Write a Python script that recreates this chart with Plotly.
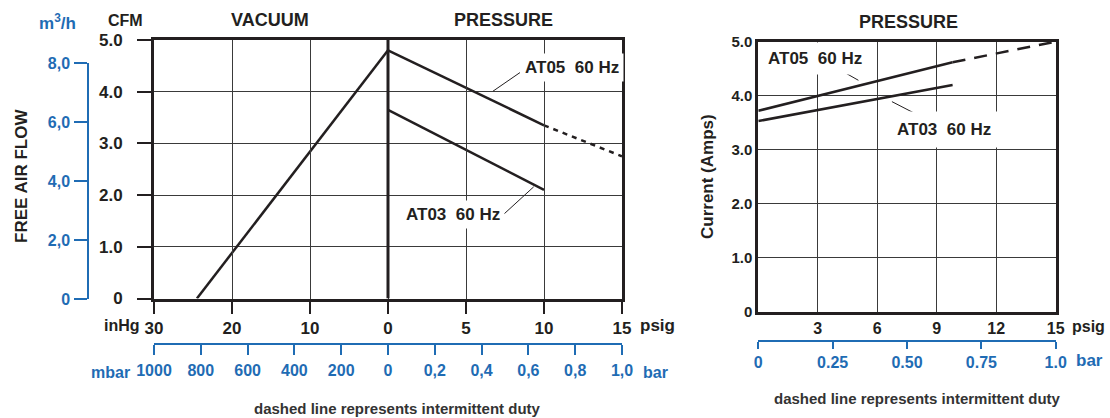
import plotly.graph_objects as go

W, H = 1110, 418
INK = "#231f20"
BLUE = "#1f6cb4"
GRID = "#3a3a3a"
F = "Liberation Sans, Arial, Helvetica, sans-serif"
FN = "Liberation Sans Narrow, Arial Narrow, Liberation Sans, Arial, sans-serif"

# ---------------- data: flow chart (left) ----------------
vac_inhg = [24.5, 0.0]          # vacuum side (inHg)
vac_cfm = [0.0, 4.8]
at05_psig = [0, 10]             # AT05 continuous duty
at05_cfm = [4.8, 3.35]
at05_int_psig = [10, 15]        # AT05 intermittent duty
at05_int_cfm = [3.35, 2.75]
at03_psig = [0, 10]             # AT03
at03_cfm = [3.65, 2.1]

inhg_ticks = [30, 20, 10, 0]
psig_ticks_left = [5, 10, 15]
cfm_ticks = [0, 1, 2, 3, 4, 5]
cfm_labels = ["0", "1.0", "2.0", "3.0", "4.0", "5.0"]
m3h_ticks = [0, 2, 4, 6, 8]
m3h_labels = ["0", "2,0", "4,0", "6,0", "8,0"]
mbar_ticks = [1000, 800, 600, 400, 200, 0]
mbar_labels = ["1000", "800", "600", "400", "200", "0"]
bar_ticks_left = [0.2, 0.4, 0.6, 0.8, 1.0]
bar_labels_left = ["0,2", "0,4", "0,6", "0,8", "1,0"]

# ---------------- data: current chart (right) ----------------
amp_at05_psig = [0, 9.8]
amp_at05 = [3.72, 4.62]
amp_at05_int_psig = [9.8, 15]
amp_at05_int = [4.62, 5.0]
amp_at03_psig = [0, 9.8]
amp_at03 = [3.53, 4.2]

psig_ticks_right = [3, 6, 9, 12, 15]
amp_ticks = [0, 1, 2, 3, 4, 5]
amp_labels = ["0", "1.0", "2.0", "3.0", "4.0", "5.0"]
bar_ticks_right = [0, 0.25, 0.5, 0.75, 1.0]
bar_labels_right = ["0", "0.25", "0.50", "0.75", "1.0"]


# left chart x-scale: vacuum half (30..0 inHg) and pressure half (0..15 psig)
def vac_pos(v):
    return [-x / 2.0 for x in v]


def mbar_pos(v):
    return [-x / 1000.0 * 15 for x in v]


def bar_pos(v):
    return [x * 15 for x in v]


def px(x):
    return x / W


def py(y):
    return 1 - y / H


fig = go.Figure()
line = dict(color=INK, width=2.5)
fig.add_trace(go.Scatter(x=vac_pos(vac_inhg), y=vac_cfm, mode="lines", line=line, xaxis="x", yaxis="y"))
fig.add_trace(go.Scatter(x=at05_psig, y=at05_cfm, mode="lines", line=line, xaxis="x", yaxis="y"))
fig.add_trace(go.Scatter(x=at05_int_psig, y=at05_int_cfm, mode="lines",
                         line=dict(color=INK, width=2.5, dash="5px,5px"), xaxis="x", yaxis="y"))
fig.add_trace(go.Scatter(x=at03_psig, y=at03_cfm, mode="lines", line=line, xaxis="x", yaxis="y"))
# helper traces so secondary axes render
fig.add_trace(go.Scatter(x=[None], y=[None], xaxis="x", yaxis="y2", hoverinfo="skip"))
fig.add_trace(go.Scatter(x=[None], y=[None], xaxis="x3", yaxis="y", hoverinfo="skip"))

fig.add_trace(go.Scatter(x=amp_at05_psig, y=amp_at05, mode="lines", line=line, xaxis="x2", yaxis="y3"))
fig.add_trace(go.Scatter(x=amp_at05_int_psig, y=amp_at05_int, mode="lines",
                         line=dict(color=INK, width=2.5, dash="13px,9px"), xaxis="x2", yaxis="y3"))
fig.add_trace(go.Scatter(x=amp_at03_psig, y=amp_at03, mode="lines", line=line, xaxis="x2", yaxis="y3"))
fig.add_trace(go.Scatter(x=[None], y=[None], xaxis="x4", yaxis="y3", hoverinfo="skip"))

bold17 = dict(family=F, size=17, color=INK, weight=700)
blue16 = dict(family=F, size=16, color=BLUE, weight=700)

frame = dict(showline=True, linecolor=INK, linewidth=3, mirror=True, zeroline=False,
             showgrid=True, gridcolor=GRID, gridwidth=1, automargin=False)

fig.update_layout(
    width=W, height=H, margin=dict(l=0, r=0, t=0, b=0, autoexpand=False),
    paper_bgcolor="white", plot_bgcolor="rgba(0,0,0,0)", showlegend=False,
    xaxis=dict(domain=[px(154), px(622)], range=[-15, 15], anchor="y",
               tickvals=vac_pos(inhg_ticks) + psig_ticks_left,
               ticktext=[str(v) for v in inhg_ticks] + [str(v) for v in psig_ticks_left],
               ticks="outside", ticklen=12, tickwidth=1.5, tickcolor=INK,
               tickfont=bold17, **frame),
    yaxis=dict(domain=[py(298.5), py(40)], range=[0, 5], anchor="x",
               tickvals=cfm_ticks, ticktext=cfm_labels,
               ticks="outside", ticklen=14, tickwidth=1.5, tickcolor=INK,
               ticklabelstandoff=11, tickfont=bold17, **frame),
    yaxis2=dict(domain=[py(299), py(63.3)], range=[0, 8], anchor="free", position=px(88),
                side="left", tickvals=m3h_ticks, ticktext=m3h_labels,
                ticks="outside", ticklen=13, tickwidth=1.5, tickcolor=BLUE,
                showline=True, linecolor=BLUE, linewidth=1.5, showgrid=False, zeroline=False,
                ticklabelstandoff=1, tickfont=blue16, automargin=False),
    xaxis3=dict(overlaying="x", anchor="free", position=py(344), side="bottom",
                range=[-15, 15],
                tickvals=mbar_pos(mbar_ticks) + bar_pos(bar_ticks_left),
                ticktext=mbar_labels + bar_labels_left,
                ticks="outside", ticklen=10, tickwidth=1.5, tickcolor=BLUE,
                showline=True, linecolor=BLUE, linewidth=1.5, showgrid=False, zeroline=False,
                ticklabelstandoff=2, tickfont=blue16, automargin=False),
    xaxis2=dict(domain=[px(758.3), px(1055.7)], range=[0, 15], anchor="y3",
                tickvals=psig_ticks_right, ticktext=[str(v) for v in psig_ticks_right],
                ticks="", tickfont=dict(family=FN, size=16, color=INK, weight=700), **frame),
    yaxis3=dict(domain=[py(311.7), py(41.7)], range=[0, 5], anchor="x2",
                tickvals=amp_ticks, ticktext=amp_labels, ticks="",
                tickfont=dict(family=FN, size=15, color=INK, weight=700), **frame),
    xaxis4=dict(overlaying="x2", anchor="free", position=py(341), side="bottom",
                range=[0, 1], tickvals=bar_ticks_right, ticktext=bar_labels_right,
                ticks="outside", ticklen=7, tickwidth=1.5, tickcolor=BLUE,
                showline=True, linecolor=BLUE, linewidth=1.5, showgrid=False, zeroline=False,
                tickfont=dict(family=FN, size=16, color=BLUE, weight=700), automargin=False),
)

# thick divider between vacuum and pressure
fig.add_shape(type="line", xref="x", yref="y", x0=0, x1=0, y0=0, y1=5,
              line=dict(color=INK, width=3))

# leader lines
leaders = [
    ("x", "y", 8.46, 4.37, 6.73, 4.01),
    ("x", "y", 7.42, 1.63, 9.34, 2.16),
    ("x2", "y3", 3.82, 4.54, 5.05, 4.285),
    ("x2", "y3", 8.54, 3.55, 6.74, 3.89),
]
for xr, yr, x0, y0, x1, y1 in leaders:
    fig.add_shape(type="line", xref=xr, yref=yr, x0=x0, y0=y0, x1=x1, y1=y1,
                  line=dict(color=INK, width=1))


def ann(text, x, y, size=16, color=INK, xref="paper", yref="paper", bg=None, pad=0,
        angle=0, family=F, xanchor="center"):
    fig.add_annotation(text=text, x=x, y=y, xref=xref, yref=yref, showarrow=False,
                       font=dict(family=family, size=size, color=color, weight=700),
                       bgcolor=bg, borderpad=pad, textangle=angle,
                       xanchor=xanchor, yanchor="middle")


# series labels
ann("AT05  60 Hz", 11.8, 4.46, size=17, xref="x", yref="y", bg="white", pad=4)
ann("AT03  60 Hz", 4.17, 1.63, size=17, xref="x", yref="y", bg="white", pad=4)
ann("AT05  60 Hz", 2.87, 4.69, size=17, xref="x2", yref="y3", bg="white", pad=6)
ann("AT03  60 Hz", 9.37, 3.365, size=17, xref="x2", yref="y3", bg="white", pad=8)

# headings and axis titles
ann("VACUUM", px(270), py(20), size=18)
ann("PRESSURE", px(503), py(20), size=18)
ann("PRESSURE", px(908), py(22.5), size=18)
ann("CFM", px(125), py(21), size=16)
ann("m<sup>3</sup>/h", px(57), py(22), size=17, color=BLUE)
ann("FREE AIR FLOW", px(21), py(176), size=17, angle=-90)
ann("Current (Amps)", px(707), py(177), size=17, angle=-90)
ann("inHg", px(122), py(325), size=16)
ann("psig", px(657), py(325), size=17)
ann("mbar", px(110), py(372), size=16, color=BLUE)
ann("bar", px(655), py(372), size=16, color=BLUE)
ann("psig", px(1088), py(326), size=16)
ann("bar", px(1089), py(360), size=17, color=BLUE)
ann("dashed line represents intermittent duty", px(397), py(408), size=15, color="#333333")
ann("dashed line represents intermittent duty", px(917), py(398), size=15, color="#333333")

fig.write_html("out.html", config={"displayModeBar": False},
               post_script="document.body.style.margin='0';document.body.style.padding='0';")
